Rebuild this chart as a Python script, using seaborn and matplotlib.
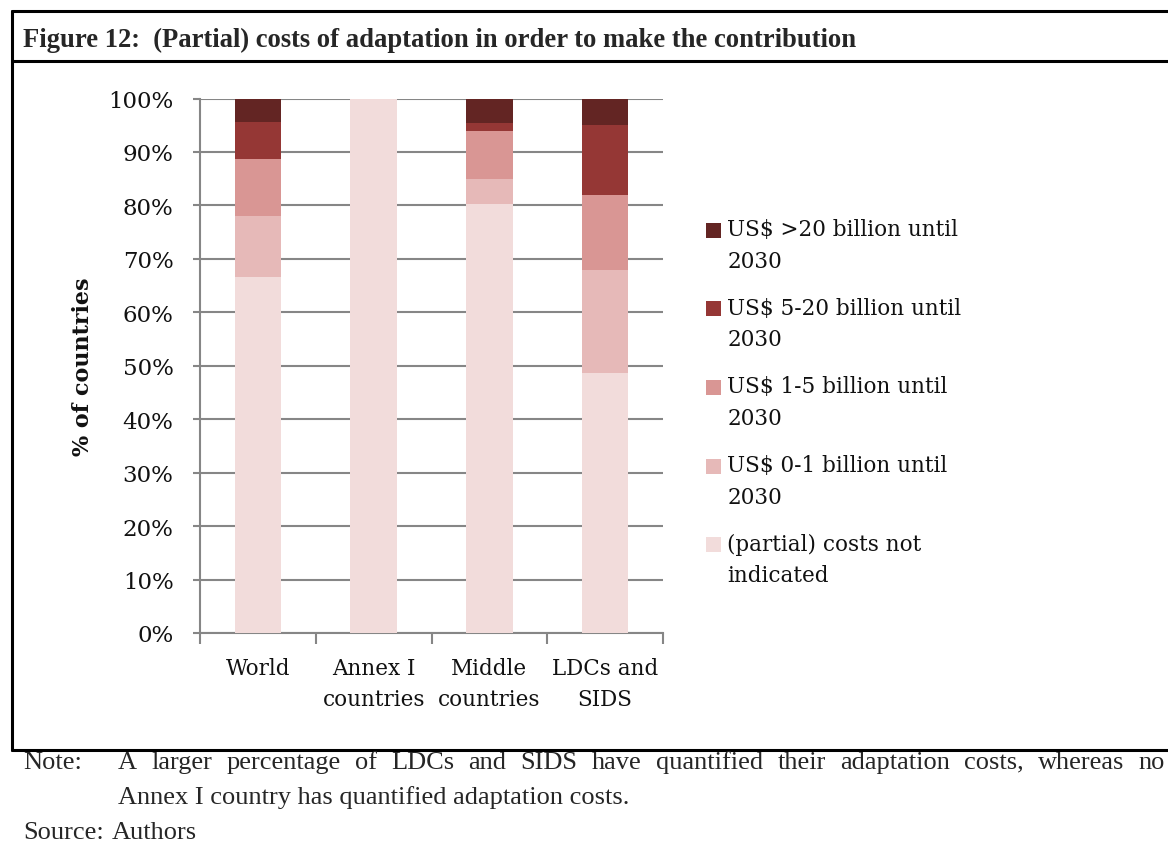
import matplotlib
matplotlib.use("Agg")
import matplotlib.pyplot as plt
from matplotlib.lines import Line2D
from matplotlib.patches import Patch, Rectangle
from matplotlib.legend_handler import HandlerBase
import numpy as np
import pandas as pd
import seaborn as sns

# Share of countries (%) per group and cost bracket
categories = ["World", "Annex I\ncountries", "Middle\ncountries", "LDCs and\nSIDS"]
not_indicated = [66.6, 100.0, 80.2, 48.6]
usd_0_1 = [11.4, 0.0, 4.7, 19.3]
usd_1_5 = [10.6, 0.0, 9.0, 14.1]
usd_5_20 = [7.0, 0.0, 1.6, 13.0]
usd_over_20 = [4.4, 0.0, 4.5, 5.0]

series_labels = [
    "(partial) costs not\nindicated",
    "US$ 0-1 billion until\n2030",
    "US$ 1-5 billion until\n2030",
    "US$ 5-20 billion until\n2030",
    "US$ >20 billion until\n2030",
]
series_values = [not_indicated, usd_0_1, usd_1_5, usd_5_20, usd_over_20]
series_colors = ["#F2DCDB", "#E6B9B8", "#D99694", "#953735", "#632523"]
y_ticks = list(range(0, 101, 10))

title_text = "Figure 12:  (Partial) costs of adaptation in order to make the contribution"
note_line1 = "A larger percentage of LDCs and SIDS have quantified their adaptation costs, whereas no"
note_line2 = "Annex I country has quantified adaptation costs."

W, H = 1168, 845
sns.set_style("white")
plt.rcParams["font.family"] = ["DejaVu Serif"]

fig = plt.figure(figsize=(W / 100, H / 100), dpi=100)


def fx(px):
    return px / W


def fy(py):
    return 1 - py / H


class FirstLineSquare(HandlerBase):
    """Legend key drawn as a square level with the first line of a two-line label."""

    def __init__(self, lift=11.2, **kw):
        super().__init__(**kw)
        self.lift = lift

    def create_artists(self, legend, orig_handle, xdescent, ydescent, width, height,
                       fontsize, trans):
        sq = Rectangle((-xdescent, -ydescent + self.lift), width, height,
                       facecolor=orig_handle.get_facecolor(), edgecolor="none",
                       transform=trans)
        return [sq]


ax = fig.add_axes([fx(200), fy(634), fx(663) - fx(200), fy(99.5) - fy(634)])

# stacked bars: draw cumulative totals from the top layer down
cum = np.cumsum(np.array(series_values), axis=0)
for i in range(len(series_values) - 1, -1, -1):
    df = pd.DataFrame({"group": categories, "value": cum[i]})
    sns.barplot(data=df, x="group", y="value", order=categories, color=series_colors[i],
                width=0.4, saturation=1, linewidth=0, ax=ax, zorder=3)

grid_c = "#868686"
txt_c = "#111111"
ax.set_ylim(0, 100)
ax.set_xlim(-0.5, len(categories) - 0.5)
ax.set_yticks(y_ticks)
ax.set_yticklabels([f"{t}%" for t in y_ticks], fontsize=16.5, color=txt_c)
ax.yaxis.grid(True, color=grid_c, linewidth=1.5, zorder=0)
ax.set_axisbelow(True)
for s in ["top", "right"]:
    ax.spines[s].set_visible(False)
for s in ["left", "bottom"]:
    ax.spines[s].set_color(grid_c)
    ax.spines[s].set_linewidth(1.5)
ax.tick_params(axis="y", which="both", left=True, length=5, width=1.5, color=grid_c, pad=14)
# category boundary ticks on x
ax.set_xticks(np.arange(-0.5, len(categories), 1.0), minor=False)
ax.set_xticklabels([])
ax.tick_params(axis="x", which="major", bottom=True, length=8, width=1.5, color=grid_c)
ax.set_xticks(np.arange(len(categories)), minor=True)
ax.set_xticklabels(categories, minor=True, fontsize=15.5, color=txt_c, linespacing=1.55)
ax.tick_params(axis="x", which="minor", bottom=True, length=0, pad=17)
ax.set_xlabel("")
ax.set_ylabel("% of countries", fontsize=16, fontweight="bold", labelpad=10, color=txt_c)

# legend, top bracket first
handles = [Patch(facecolor=c, edgecolor="none") for c in series_colors[::-1]]
leg = fig.legend(handles, series_labels[::-1], loc="upper left",
                 bbox_to_anchor=(fx(706), fy(219)), frameon=False, fontsize=15.5,
                 handlelength=0.7, handleheight=0.7, handletextpad=0.28,
                 labelspacing=1.15, borderpad=0, borderaxespad=0,
                 handler_map={Patch: FirstLineSquare()})
for t in leg.get_texts():
    t.set_linespacing(1.58)
    t.set_color(txt_c)

# frame around the figure block
lw = 2.2
fig.add_artist(Line2D([fx(12), 1], [fy(12), fy(12)], color="black", lw=lw))
fig.add_artist(Line2D([fx(12), 1], [fy(62), fy(62)], color="black", lw=lw))
fig.add_artist(Line2D([fx(12), 1], [fy(751), fy(751)], color="black", lw=lw))
fig.add_artist(Line2D([fx(12), fx(12)], [fy(12), fy(751)], color="black", lw=lw))

serif = ["Liberation Serif", "DejaVu Serif"]
fig.text(fx(23), fy(40), title_text, family=serif, fontsize=19.2, fontweight="bold",
         va="center", ha="left")

# justified first line of the note
fig.canvas.draw()
renderer = fig.canvas.get_renderer()
words = note_line1.split(" ")
x_start, x_end, note_size = 118, 1165, 19
word_texts = [fig.text(0, fy(763), w, family=serif, fontsize=note_size, va="center", ha="left")
              for w in words]
widths = [t.get_window_extent(renderer).width for t in word_texts]
gap = (x_end - x_start - sum(widths)) / (len(words) - 1)
xpos = x_start
for t, w in zip(word_texts, widths):
    t.set_x(fx(xpos))
    xpos += w + gap

fig.text(fx(23), fy(763), "Note:", family=serif, fontsize=note_size, va="center", ha="left")
fig.text(fx(118), fy(798), note_line2, family=serif, fontsize=note_size, va="center", ha="left")
fig.text(fx(23), fy(833), "Source:", family=serif, fontsize=note_size, va="center", ha="left")
fig.text(fx(112), fy(833), "Authors", family=serif, fontsize=note_size, va="center", ha="left")

fig.savefig("out.png", dpi=100)
